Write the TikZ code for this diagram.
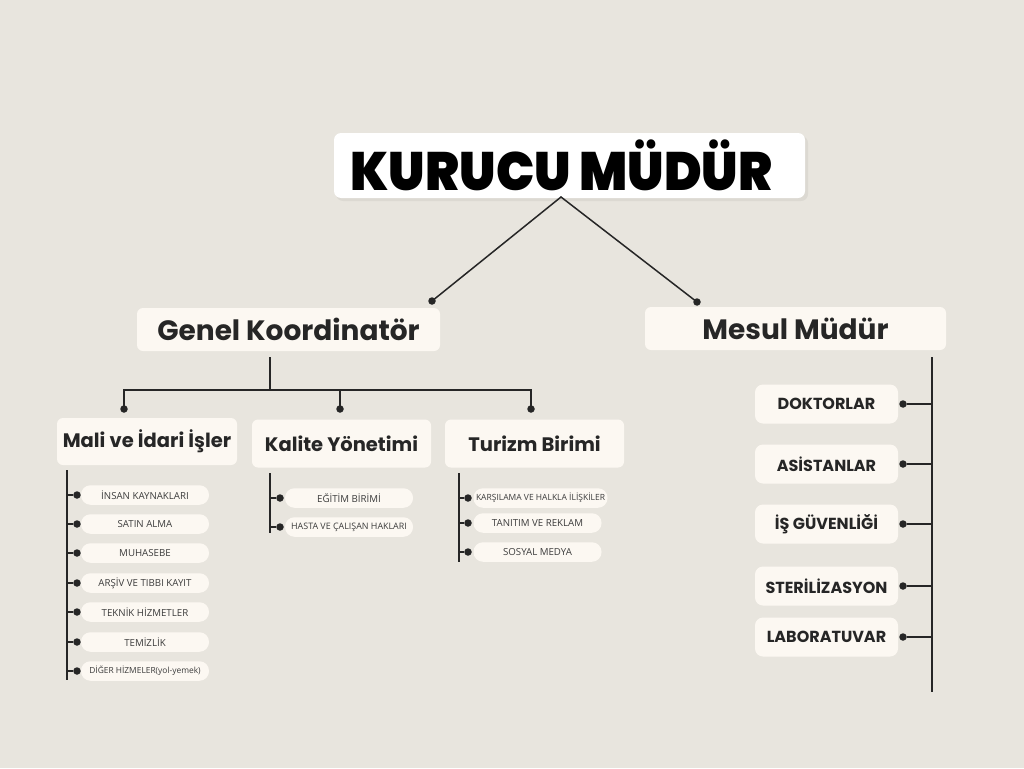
\documentclass[tikz,border=0pt]{standalone}
\usepackage{fontspec}
\usepackage{graphicx}
\setmainfont{Poppins}
\newfontfamily\blackfont{Poppins Black}
\newfontfamily\itemfont{Open Sans}
\definecolor{bg}{RGB}{232,229,222}
\definecolor{cream}{RGB}{252,248,242}
\definecolor{ink}{RGB}{38,38,38}
\definecolor{itemtxt}{RGB}{60,60,60}
\begin{document}
\begin{tikzpicture}[x=1pt,y=-1pt,
  line/.style={draw=ink,line width=1.8pt},
  thinline/.style={draw=ink,line width=1.5pt},
  dotc/.style={circle,fill=ink,inner sep=0pt,minimum size=7.5pt},
  mainbox/.style={fill=cream,rounded corners=6pt,inner sep=0pt,text=ink,font=\bfseries\fontsize{28}{30}\selectfont},
  subbox/.style={fill=cream,rounded corners=6pt,inner sep=0pt,minimum width=179pt,minimum height=48pt,text=ink,font=\bfseries\fontsize{19.5}{21}\selectfont},
  pill/.style={fill=cream,rounded corners=9.5pt,minimum width=128pt,minimum height=19.5pt,inner sep=0pt,font=\itemfont\fontsize{9.7}{10}\selectfont,text=itemtxt},
  rbox/.style={fill=cream,rounded corners=8pt,minimum width=143pt,minimum height=39pt,inner sep=0pt,font=\bfseries\fontsize{16}{17}\selectfont,text=ink}]
\fill[bg] (0,0) rectangle (1024,768);
\useasboundingbox (0,0) rectangle (1024,768);

% title
\fill[black,opacity=0.05,rounded corners=7pt] (336,136) rectangle (808,201);
\node[fill=white,rounded corners=7pt,minimum width=471pt,minimum height=65pt,inner sep=0pt,text=black] (title) at (569.5,165.5)
  {\blackfont\fontsize{54}{54}\selectfont\scalebox{0.94}[1]{KURUCU MÜDÜR}\kern16pt};

% level 1
\node[mainbox,minimum width=303pt,minimum height=43pt] (genel) at (288.5,329.5) {Genel Koordinatör};
\node[mainbox,minimum width=301pt,minimum height=43pt] (mesul) at (795.5,328.5) {Mesul Müdür};

\coordinate (apex) at (561,197);
\coordinate (gk) at (432,301);
\coordinate (mk) at (697,302);
\draw[thinline] (gk) -- (apex) -- (mk);
\node[dotc] (gkd) at (gk) {};
\node[dotc] (mkd) at (mk) {};

% level 2
\node[subbox,minimum width=180pt,minimum height=47pt] (mali) at (147,441.5) {Mali ve İdari İşler};
\node[subbox] (kalite) at (341.5,443.5) {Kalite Yönetimi};
\node[subbox] (turizm) at (534.5,443.5) {Turizm Birimi};

\coordinate (g0) at (270,357);
\coordinate (g1) at (270,390);
\coordinate (b1) at (124,390);
\coordinate (b2) at (340,390);
\coordinate (b3) at (531,390);
\coordinate (d1) at (124,409);
\coordinate (d2) at (340,409);
\coordinate (d3) at (531,409);
\draw[line] (g0) -- (g1);
\draw[line] (d1) -- (b1) -- (b3) -- (d3);
\draw[line] (b2) -- (d2);
\node[dotc] at (d1) {};
\node[dotc] at (d2) {};
\node[dotc] at (d3) {};

% left list
\coordinate (lt) at (67,470);
\coordinate (lb) at (67,680);
\draw[line] (lt) -- (lb);
\foreach \y/\t/\n [count=\i] in {495/İNSAN KAYNAKLARI/l1,524/SATIN ALMA/l2,553/MUHASEBE/l3,583/ARŞİV VE TIBBI KAYIT/l4,612/TEKNİK HİZMETLER/l5,642/TEMİZLİK/l6}{
  \node[pill] (\n) at (145,\y) {\t};
  \node[dotc] (\n d) at (77,\y) {};
  \coordinate (\n s) at (67,\y);
  \draw[line] (\n s) -- (\n d);
}
\node[pill,font=\itemfont\fontsize{8.4}{9}\selectfont] (l7) at (145,671) {DİĞER HİZMELER(yol-yemek)};
\node[dotc] (l7d) at (77,671) {};
\coordinate (l7s) at (67,671);
\draw[line] (l7s) -- (l7d);

% kalite list
\coordinate (kt) at (270,473);
\coordinate (kb) at (270,533);
\draw[line] (kt) -- (kb);
\node[pill] (k1) at (349,498) {EĞİTİM BİRİMİ};
\node[pill,font=\itemfont\fontsize{8.9}{9}\selectfont] (k2) at (349,527) {HASTA VE ÇALIŞAN HAKLARI};
\node[dotc] (k1d) at (280,498) {};
\node[dotc] (k2d) at (280,527) {};
\coordinate (k1s) at (270,498);
\coordinate (k2s) at (270,527);
\draw[line] (k1s) -- (k1d);
\draw[line] (k2s) -- (k2d);

% turizm list
\coordinate (tt) at (459,473);
\coordinate (tb) at (459,562);
\draw[line] (tt) -- (tb);
\node[pill,minimum width=134pt,font=\itemfont\fontsize{8.5}{9}\selectfont] (t1) at (540.5,498) {KARŞILAMA VE HALKLA İLİŞKİLER};
\node[pill] (t2) at (537.5,523) {TANITIM VE REKLAM};
\node[pill] (t3) at (537.5,552) {SOSYAL MEDYA};
\foreach \n/\y in {t1/498,t2/523,t3/552}{
  \node[dotc] (\n d) at (468,\y) {};
  \coordinate (\n s) at (459,\y);
  \draw[line] (\n s) -- (\n d);
}

% mesul list
\coordinate (mt) at (932,357);
\coordinate (mb) at (932,692);
\draw[line] (mt) -- (mb);
\foreach \y/\t/\n in {404/DOKTORLAR/r1,464/ASİSTANLAR/r2,524/İŞ GÜVENLİĞİ/r3,586/STERİLİZASYON/r4,637/LABORATUVAR/r5}{
  \node[rbox] (\n) at (826.5,\y) {\t};
  \node[dotc] (\n d) at (903,\y) {};
  \coordinate (\n s) at (932,\y);
  \draw[line] (\n s) -- (\n d);
}
\end{tikzpicture}
\end{document}
